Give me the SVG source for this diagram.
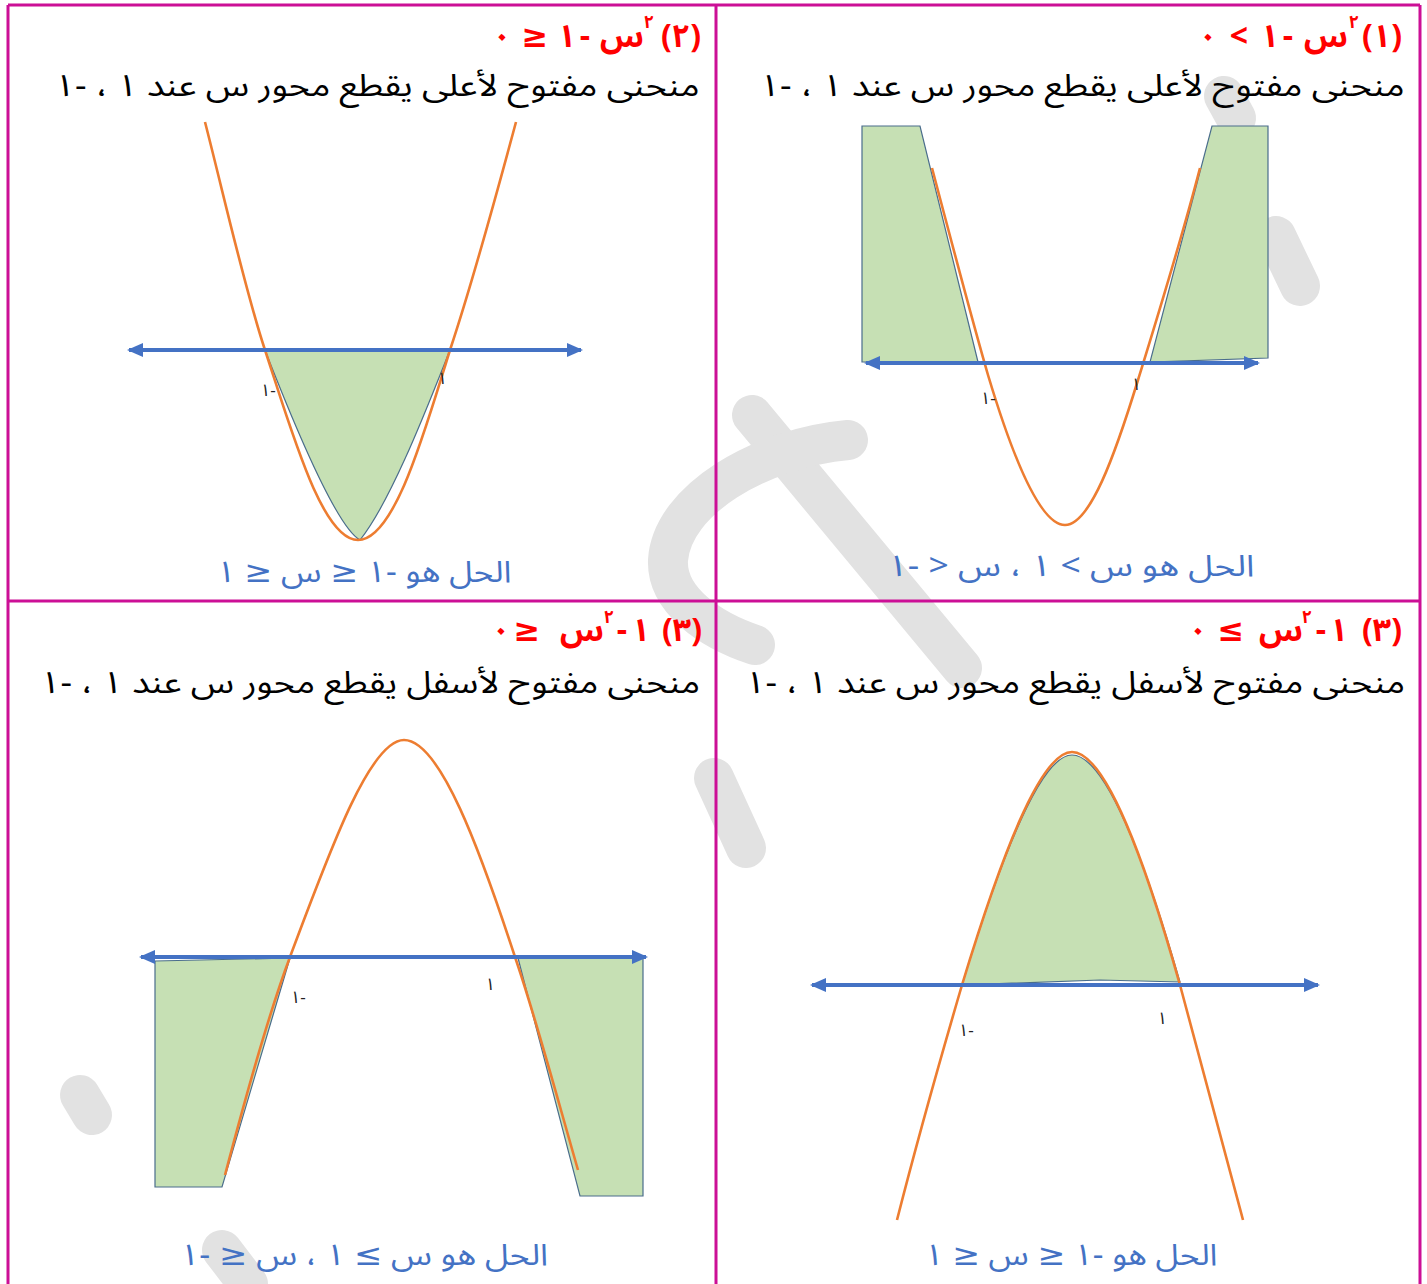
<svg xmlns="http://www.w3.org/2000/svg" width="1427" height="1284" viewBox="0 0 1427 1284">
<style>
.ar{font-family:"Noto Sans Arabic","Noto Naskh Arabic","DejaVu Sans",sans-serif}
.t{font-size:32px;font-weight:bold;fill:#ff0000;text-anchor:middle}
.sup{font-size:18px;font-weight:bold;fill:#ff0000;text-anchor:middle}
.l2{font-size:31px;fill:#000;text-anchor:middle}
.sol{font-size:30px;fill:#4472c4;text-anchor:middle}
.tick{font-size:17px;fill:#222;text-anchor:middle}
.wm{fill:none;stroke:#e2e2e2;stroke-width:40;stroke-linecap:round;stroke-linejoin:round}
.green{fill:#c6e0b4;stroke:#4a6d8c;stroke-width:1.2}
.curve{fill:none;stroke:#ed7d31;stroke-width:2.6}
.axis{stroke:#4472c4;stroke-width:4;marker-start:url(#ah);marker-end:url(#ah)}
.border{stroke:#cc0f96;stroke-width:3;fill:none}
</style>
<defs>
<marker id="ah" markerUnits="userSpaceOnUse" markerWidth="18" markerHeight="14" refX="14" refY="7" orient="auto-start-reverse">
<path d="M0,0 L16,7 L0,14 Z" fill="#4472c4"/>
</marker>
</defs>
<rect width="1427" height="1284" fill="#fff"/>
<g id="watermark">
<path class="wm" d="M1224,96 L1236,118"/>
<path class="wm" d="M1276,236 L1300,286"/>
<path class="wm" d="M752,415 L962,668"/>
<path class="wm" d="M848,440 C760,448 672,500 668,560 C666,600 710,630 755,645"/>
<path class="wm" d="M714,778 L746,848"/>
<path class="wm" d="M80,1095 L92,1115"/>
<path class="wm" d="M222,1250 L248,1284"/>
</g>
<g id="borders">
<path class="border" d="M8,5 H1420 M8,601 H1420 M8,5 V1284 M1420,5 V1284 M716,5 V1284"/>
</g>
<g id="q1">
<text class="ar t" x="1382" y="47">(١)</text>
<text class="ar t" x="1326" y="47">س</text>
<text class="ar sup" x="1354" y="28">٢</text>
<text class="ar t" x="1288" y="47">-</text>
<text class="ar t" x="1270" y="47">١</text>
<text class="ar t" x="1239" y="47">&lt;</text>
<text class="ar t" x="1208" y="47">٠</text>
<text class="ar l2" x="1082" y="96" direction="rtl" textLength="645" lengthAdjust="spacingAndGlyphs">منحنى مفتوح لأعلى يقطع محور س عند ١ ، -١</text>
<path class="green" d="M862,126 L920,126 L978,362 L862,362 Z"/>
<path class="green" d="M1212,126 L1268,126 L1268,358 L1150,362 Z"/>
<path class="curve" d="M932,168 C955,255 972,320 988,375 C1012,455 1040,525 1065,525 C1090,525 1115,455 1138,380 C1155,325 1180,245 1200,168"/>
<line class="axis" x1="866" y1="363" x2="1258" y2="363"/>
<text class="ar tick" x="988" y="404">١-</text>
<text class="ar tick" x="1136" y="390">١</text>
<text class="ar sol" x="1071" y="576" direction="rtl" textLength="367" lengthAdjust="spacingAndGlyphs">الحل هو س &gt; ١ ، س &lt; -١</text>
</g>
<g id="q2">
<text class="ar t" x="681" y="47">(٢)</text>
<text class="ar t" x="622" y="47">س</text>
<text class="ar sup" x="649" y="28">٢</text>
<text class="ar t" x="585" y="47">-</text>
<text class="ar t" x="567" y="47">١</text>
<text class="ar t" x="535" y="47">≥</text>
<text class="ar t" x="502" y="47">٠</text>
<text class="ar l2" x="377" y="96" direction="rtl" textLength="645" lengthAdjust="spacingAndGlyphs">منحنى مفتوح لأعلى يقطع محور س عند ١ ، -١</text>
<path class="green" d="M265,350 L450,350 C430,400 392,500 360,540 C338,528 300,440 265,350 Z"/>
<path class="curve" d="M205,122 C225,200 245,290 265,350 C292,432 322,540 358,540 C395,540 425,430 450,350 C470,290 495,200 516,122"/>
<line class="axis" x1="129" y1="350" x2="581" y2="350"/>
<text class="ar tick" x="268" y="396">١-</text>
<text class="ar tick" x="442" y="384">١</text>
<text class="ar sol" x="364" y="582" direction="rtl" textLength="295" lengthAdjust="spacingAndGlyphs">الحل هو -١ ≤ س ≤ ١</text>
</g>
<g id="q3">
<text class="ar t" x="1382" y="641">(٣)</text>
<text class="ar t" x="1339" y="641">١</text>
<text class="ar t" x="1321" y="641">-</text>
<text class="ar t" x="1281" y="641">س</text>
<text class="ar sup" x="1307" y="623">٢</text>
<text class="ar t" x="1231" y="641">≤</text>
<text class="ar t" x="1198" y="641">٠</text>
<text class="ar l2" x="1075" y="693" direction="rtl" textLength="660" lengthAdjust="spacingAndGlyphs">منحنى مفتوح لأسفل يقطع محور س عند ١ ، -١</text>
<path class="green" d="M962,985 C1000,860 1040,755 1072,755 C1105,755 1145,860 1180,982 L1100,980 Z"/>
<path class="curve" d="M897,1220 C920,1130 940,1060 962,985 C1000,860 1040,752 1072,752 C1105,752 1145,860 1180,985 C1200,1060 1222,1140 1243,1220"/>
<line class="axis" x1="812" y1="985" x2="1318" y2="985"/>
<text class="ar tick" x="966" y="1036">١-</text>
<text class="ar tick" x="1162" y="1024">١</text>
<text class="ar sol" x="1071" y="1265" direction="rtl" textLength="293" lengthAdjust="spacingAndGlyphs">الحل هو -١ ≤ س ≤ ١</text>
</g>
<g id="q4">
<text class="ar t" x="682" y="641">(٣)</text>
<text class="ar t" x="641" y="641">١</text>
<text class="ar t" x="622" y="641">-</text>
<text class="ar t" x="582" y="641">س</text>
<text class="ar sup" x="609" y="623">٢</text>
<text class="ar t" x="527" y="641">≥</text>
<text class="ar t" x="501" y="641">٠</text>
<text class="ar l2" x="370" y="693" direction="rtl" textLength="660" lengthAdjust="spacingAndGlyphs">منحنى مفتوح لأسفل يقطع محور س عند ١ ، -١</text>
<path class="green" d="M155,961 L290,958 L222,1187 L155,1187 Z"/>
<path class="green" d="M518,958 L643,958 L643,1196 L580,1196 Z"/>
<path class="curve" d="M225,1175 C250,1080 270,1010 290,957 C330,850 370,740 404,740 C440,740 480,850 515,957 C535,1015 555,1090 578,1170"/>
<line class="axis" x1="141" y1="957" x2="646" y2="957"/>
<text class="ar tick" x="298" y="1003">١-</text>
<text class="ar tick" x="490" y="990">١</text>
<text class="ar sol" x="364" y="1265" direction="rtl" textLength="368" lengthAdjust="spacingAndGlyphs">الحل هو س ≥ ١ ، س ≤ -١</text>
</g>
</svg>
